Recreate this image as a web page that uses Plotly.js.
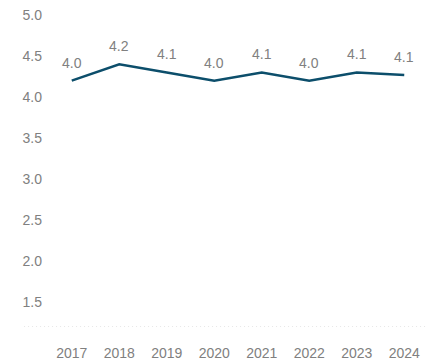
<!DOCTYPE html>
<html>
<head>
<meta charset="utf-8">
<script src="https://cdn.plot.ly/plotly-3.0.1.min.js"></script>
<style>html,body{margin:0;padding:0;background:#fff;}#chart{width:440px;height:363px;}</style>
</head>
<body>
<div id="chart"></div>
<script>
const years = [2017, 2018, 2019, 2020, 2021, 2022, 2023, 2024];
const values = [4.20, 4.40, 4.30, 4.20, 4.30, 4.20, 4.30, 4.27];
const labels = ['4.0','4.2','4.1','4.0','4.1','4.0','4.1','4.1'];
const yTicks = [1.5, 2.0, 2.5, 3.0, 3.5, 4.0, 4.5, 5.0];

const gray = '#808080';
const font = {family: 'Liberation Sans, Arial, sans-serif', size: 14, color: gray};

const trace = {
  x: years, y: values, type: 'scatter', mode: 'lines',
  line: {color: '#0c4e6b', width: 2.5},
  hoverinfo: 'skip'
};

const annotations = years.map((yr, i) => ({
  x: yr, y: values[i], xref: 'x', yref: 'y', text: labels[i], showarrow: false,
  xanchor: 'center', yanchor: 'bottom', yshift: 8,
  font: font
}));

const layout = {
  width: 440, height: 363,
  margin: {l: 48, r: 12, t: 15, b: 36},
  paper_bgcolor: '#fff', plot_bgcolor: '#fff',
  showlegend: false,
  font: font,
  xaxis: {
    range: [2016.5, 2024.5], tickvals: years, ticktext: years.map(String),
    showgrid: false, zeroline: false, showline: false,
    ticks: '', ticklabelstandoff: 16, tickfont: font, fixedrange: true
  },
  yaxis: {
    range: [1.2, 5.0], tickvals: yTicks, ticktext: yTicks.map(v => v.toFixed(1)),
    showgrid: false, zeroline: false, showline: false, ticks: '',
    ticklabelstandoff: 5, tickfont: font, fixedrange: true
  },
  shapes: [{
    type: 'line', xref: 'paper', yref: 'y', x0: -0.063, x1: 1, y0: 1.2, y1: 1.2,
    line: {color: '#cfcfcf', width: 1, dash: '1px,3px'}
  }],
  annotations: annotations
};

Plotly.newPlot('chart', [trace], layout, {displayModeBar: false, staticPlot: true});
</script>
</body>
</html>
